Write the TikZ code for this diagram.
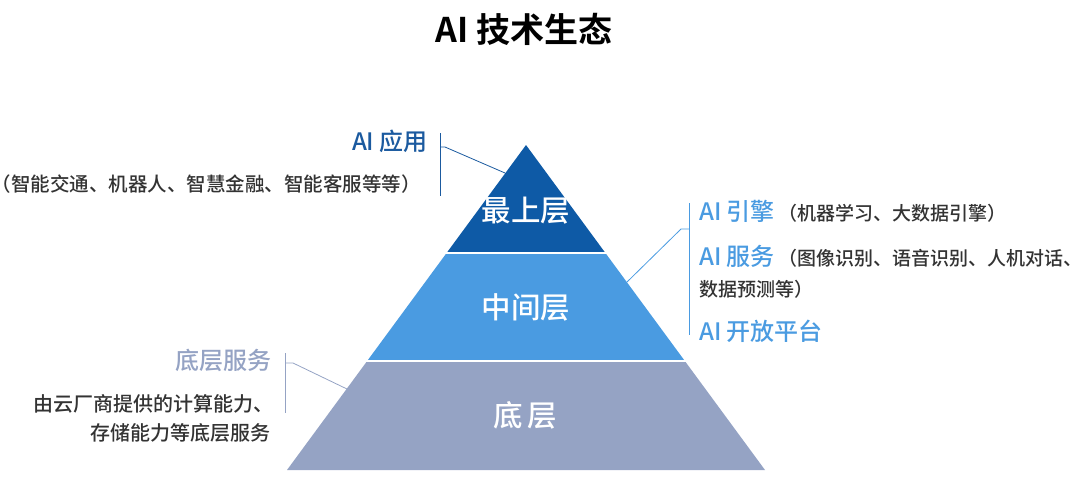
\documentclass[tikz,border=0pt]{standalone}
\usepackage{fontspec}
\setmainfont{Noto Sans CJK SC}[UprightFont={Noto Sans CJK SC Medium}, BoldFont={Noto Sans CJK SC Bold}]
\definecolor{topc}{HTML}{0E5AA6}
\definecolor{midc}{HTML}{4A9BE1}
\definecolor{botc}{HTML}{95A3C4}
\definecolor{appc}{HTML}{1B5A9F}
\definecolor{txtc}{HTML}{333333}
\tikzset{
  lbl/.style={inner sep=0pt, anchor=base east},
  rlbl/.style={inner sep=0pt, anchor=base west},
  lay/.style={inner sep=0pt, anchor=base, text=white, font=\fontsize{29.5}{31}\selectfont},
  big/.style={font=\fontsize{24}{26}\selectfont},
  small/.style={font=\fontsize{19}{21}\selectfont, text=txtc},
  conn/.style={line width=0.8pt},
}
\begin{document}
\begin{tikzpicture}[x=1pt,y=-1pt]
\useasboundingbox (0,0) rectangle (1073,480);
% pyramid
\coordinate (apex) at (526,145);
\coordinate (bl) at (287,470);
\coordinate (br) at (765,470);
\begin{scope}
  \clip (apex) -- (br) -- (bl) -- cycle;
  \fill[topc] (0,0) rectangle (1073,252);
  \fill[midc] (0,253.8) rectangle (1073,360);
  \fill[botc] (0,361.8) rectangle (1073,480);
\end{scope}
% title
\node[inner sep=0pt, anchor=base, font=\fontsize{34}{36}\selectfont\bfseries] (title) at (524,42) {AI 技术生态};
% layer labels
\node[lay] (l1) at (526,221) {最上层};
\node[lay] (l2) at (526,318) {中间层};
\node[lay] (l3) at (525,426) {底\,层};
% top-left annotation
\node[lbl, big, text=appc] (app) at (428,150) {AI 应用};
\node[lbl, font=\fontsize{19.5}{21}\selectfont, text=txtc] (appd) at (421,191.5) {（智能交通、机器人、智慧金融、智能客服等等）};
\coordinate (tlt) at (440,133);
\coordinate (tlb) at (440,196);
\coordinate (tlk) at (440,147);
\coordinate (tlk2) at (445,147);
\coordinate (tle) at (505,173);
\draw[conn, appc] (tlt) -- (tlb);
\draw[conn, appc] (tlk) -- (tlk2) -- (tle);
% right annotation
\node[rlbl] (eng) at (699,220) {{\fontsize{24}{26}\selectfont\color{midc}AI 引擎}{\fontsize{19}{21}\selectfont\color{txtc}\,（机器学习、大数据引擎）}};
\node[rlbl] (svc) at (699,265) {{\fontsize{24}{26}\selectfont\color{midc}AI 服务}{\fontsize{19}{21}\selectfont\color{txtc}\,（图像识别、语音识别、人机对话、}};
\node[rlbl, small] (svc2) at (699,296.5) {数据预测等）};
\node[rlbl, big, text=midc] (open) at (699,340) {AI 开放平台};
\coordinate (rt) at (689,203);
\coordinate (rb) at (689,335);
\coordinate (rk) at (689,229);
\coordinate (rk2) at (681,229);
\coordinate (re) at (627,282);
\draw[conn, midc] (rt) -- (rb);
\draw[conn, midc] (rk) -- (rk2) -- (re);
% bottom-left annotation
\node[lbl, big, text=botc] (base) at (272,369) {底层服务};
\node[lbl, font=\fontsize{20}{22}\selectfont, text=txtc] (based1) at (274,411) {由云厂商提供的计算能力、};
\node[lbl, font=\fontsize{20}{22}\selectfont, text=txtc] (based2) at (271,440) {存储能力等底层服务};
\coordinate (bt) at (285,353);
\coordinate (bb) at (285,413);
\coordinate (bk) at (285,363);
\coordinate (bk2) at (293,363);
\coordinate (be) at (347,389);
\draw[conn, botc] (bt) -- (bb);
\draw[conn, botc] (bk) -- (bk2) -- (be);
\end{tikzpicture}
\end{document}
